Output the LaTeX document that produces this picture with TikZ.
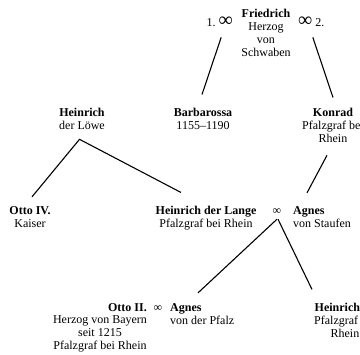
\documentclass[tikz,border=0pt]{standalone}
\usepackage{fontspec}
\setmainfont{Liberation Serif}
\usetikzlibrary{calc}
\tikzset{
  person/.style={align=center, inner sep=1pt, anchor=base, font=\fontsize{12}{13}\selectfont},
  heirat/.style={inner sep=1pt, anchor=base, font=\fontsize{12}{13}\selectfont}
}
\newcommand{\grossehe}{{\fontsize{20}{20}\selectfont ∞}}
\begin{document}
\begin{tikzpicture}[x=1pt,y=-1pt]
      \useasboundingbox (0,0) rectangle (360,355);
      % base = baseline of the last line
      \draw
        (266,57) node[person] (friedrich){\textbf{Friedrich}\\Herzog\\von\\Schwaben}
        (234,27) node[heirat, anchor=base east] (ehe1){1.~\grossehe}
        (297,27) node[heirat, anchor=base west] (ehe2){\grossehe~2.}
        (82,130) node[person] (loewe){\textbf{Heinrich}\\der Löwe}
        (203,130) node[person] (barbarossa){\textbf{Barbarossa}\\1155--1190}
        (333,143) node[person] (konrad){\textbf{Konrad}\\Pfalzgraf bei\\Rhein}
        (30,228) node[person] (otto4){\textbf{Otto IV.}\\Kaiser}
        (206,228) node[person] (lange){\textbf{Heinrich der Lange}\\Pfalzgraf bei Rhein}
        (277,215) node[heirat] (ehe3){∞}
        (292,228) node[person, align=left, anchor=base west] (agnes){\textbf{Agnes}\\von Staufen}
        (148,312) node[person, anchor=base east] (otto2){\textbf{Otto II.}}
        (100,349.5) node[person] (otto2titel){Herzog von Bayern\\seit 1215\\Pfalzgraf bei Rhein}
        (158,312) node[heirat] (ehe4){∞}
        (169,325) node[person, align=left, anchor=base west] (agnes2){\textbf{Agnes}\\von der Pfalz}
        (345,338) node[person] (heinrich2){\textbf{Heinrich II.}\\Pfalzgraf bei\\Rhein};
      \begin{scope}[line width=1.1pt]
        \draw ($(ehe1.south)+(1.5,9)$) -- ($(barbarossa.north)+(-1,-13)$);
        \draw ($(ehe2.south)+(1.5,9)$) -- ($(konrad.north)+(0,-10)$);
        \draw ($(otto4.north)+(2,-9)$) -- ($(loewe.south)+(-2.5,8)$) -- ($(lange.north)+(-25,-13)$);
        \draw ($(konrad.south)+(-6,11)$) -- ($(agnes.north west)+(15,-13)$);
        \draw ($(ehe3.south)+(0,3)$) -- ($(agnes2.north west)+(29,-10)$);
        \draw ($(ehe3.south)+(1,3)$) -- ($(heinrich2.north)+(-33,-13)$);
      \end{scope}
\end{tikzpicture}
\end{document}
